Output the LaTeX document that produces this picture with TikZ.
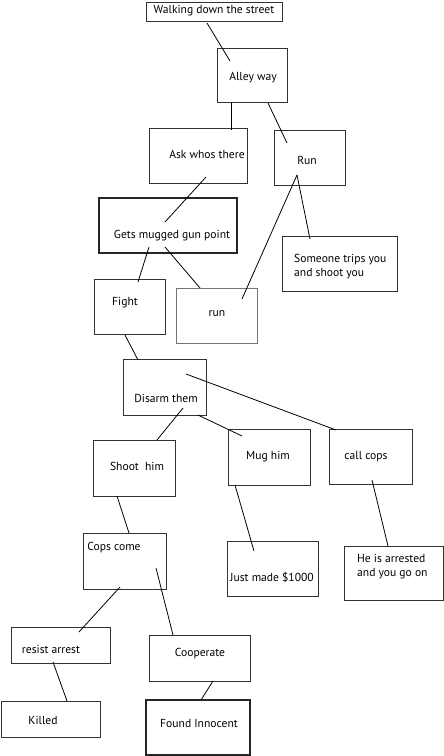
\documentclass[tikz,border=0pt]{standalone}
\usepackage{fontspec}
\setmainfont{PT Sans}
\newcommand\mybox[6][]{%
  \pgfmathsetmacro\bcx{(#3+#5)/2}\pgfmathsetmacro\bcy{(#4+#6)/2}%
  \pgfmathsetmacro\bw{#5-#3}\pgfmathsetmacro\bh{#6-#4}%
  \node[box,minimum width=\bw pt,minimum height=\bh pt,#1] (#2) at (\bcx,\bcy) {};}
\begin{document}
\begin{tikzpicture}[x=1pt,y=-1pt,
  box/.style={draw=black!80,line width=1pt,inner sep=0pt,outer sep=0pt},
  thickbox/.style={draw=black!85,line width=1.2pt},
  graybox/.style={draw=black!55,line width=1pt},
  txt/.style={inner sep=0pt,font=\fontsize{11.6}{14}\selectfont},
  link/.style={draw=black,line width=0.8pt}]
\useasboundingbox[fill=white] (0,0) rectangle (444,756);
\mybox{walk}{146}{2}{282}{21}
\mybox{alley}{217}{48}{287}{102}
\mybox{ask}{149}{128}{247}{183}
\mybox{run1}{274}{130}{345}{185}
\mybox[thickbox]{gets}{99}{198}{237}{253}
\mybox{fight}{94}{279}{165}{334}
\mybox[graybox]{run2}{176}{288}{257}{343}
\mybox{trips}{282}{236}{397}{291}
\mybox{disarm}{123}{359}{206}{415}
\mybox{shoot}{93}{440}{175}{496}
\mybox{mug}{228}{429}{310}{485}
\mybox{call}{329}{429}{412}{484}
\mybox{just}{227}{541}{318}{596}
\mybox{arrest}{344}{546}{443}{600}
\mybox{cops}{83}{533}{166}{589}
\mybox{resist}{11}{627}{110}{663}
\mybox{coop}{149}{635}{250}{681}
\mybox{killed}{1}{701}{100}{737}
\mybox[thickbox]{found}{146}{700}{250}{755}
% texts
\node[txt] (walk-t) at (214,11) {Walking down the street};
\node[txt] (alley-t) at (253,78) {Alley way};
\node[txt] (ask-t) at (207,154) {Ask whos there};
\node[txt] (run1-t) at (307,160) {Run};
\node[txt] (gets-t) at (172,236) {Gets mugged gun point};
\node[txt] (fight-t) at (125,303) {Fight};
\node[txt] (run2-t) at (217,314) {run};
\node[txt,anchor=west,align=left] (trips-t) at (294,267) {Someone trips you\\and shoot you};
\node[txt] (disarm-t) at (166,398) {Disarm them};
\node[txt] (shoot-t) at (137,466) {Shoot\ \ him};
\node[txt] (mug-t) at (268,457) {Mug him};
\node[txt] (call-t) at (366,457) {call cops};
\node[txt] (just-t) at (272,577) {Just made \$1000};
\node[txt,anchor=west,align=left] (arrest-t) at (357,567) {He is arrested\\and you go on};
\node[txt] (cops-t) at (114,548) {Cops come};
\node[txt] (resist-t) at (51,649) {resist arrest};
\node[txt] (coop-t) at (200,654) {Cooperate};
\node[txt] (killed-t) at (43,720) {Killed};
\node[txt] (found-t) at (199,724) {Found Innocent};
% connectors
\draw[link] ([shift={(61,21)}]walk.north west) -- ([shift={(13,13)}]alley.north west);
\draw[link] ([shift={(14,54)}]alley.north west) -- ([shift={(82,2)}]ask.north west);
\draw[link] ([shift={(51,55)}]alley.north west) -- ([shift={(13,13)}]run1.north west);
\draw[link] ([shift={(57,49)}]ask.north west) -- ([shift={(66,24)}]gets.north west);
\draw[link] ([shift={(50,49)}]gets.north west) -- ([shift={(44,3)}]fight.north west);
\draw[link] ([shift={(66,49)}]gets.north west) -- ([shift={(24,0)}]run2.north west);
\draw[link] ([shift={(23,45)}]run1.north west) -- ([shift={(66,11)}]run2.north west);
\draw[link] ([shift={(23,45)}]run1.north west) -- ([shift={(28,3)}]trips.north west);
\draw[link] ([shift={(31,56)}]fight.north west) -- ([shift={(15,1)}]disarm.north west);
\draw[link] ([shift={(63,15)}]disarm.north west) -- ([shift={(7,1)}]call.north west);
\draw[link] ([shift={(75,56)}]disarm.north west) -- ([shift={(14,7)}]mug.north west);
\draw[link] ([shift={(60,49)}]disarm.north west) -- ([shift={(64,0)}]shoot.north west);
\draw[link] ([shift={(24,56)}]shoot.north west) -- ([shift={(46,0)}]cops.north west);
\draw[link] ([shift={(7,56)}]mug.north west) -- ([shift={(27,10)}]just.north west);
\draw[link] ([shift={(43,51)}]call.north west) -- ([shift={(44,0)}]arrest.north west);
\draw[link] ([shift={(37,54)}]cops.north west) -- ([shift={(68,5)}]resist.north west);
\draw[link] ([shift={(73,35)}]cops.north west) -- ([shift={(24,0)}]coop.north west);
\draw[link] ([shift={(42,35)}]resist.north west) -- ([shift={(66,0)}]killed.north west);
\draw[link] ([shift={(64,46)}]coop.north west) -- ([shift={(55,0)}]found.north west);
\end{tikzpicture}
\end{document}
